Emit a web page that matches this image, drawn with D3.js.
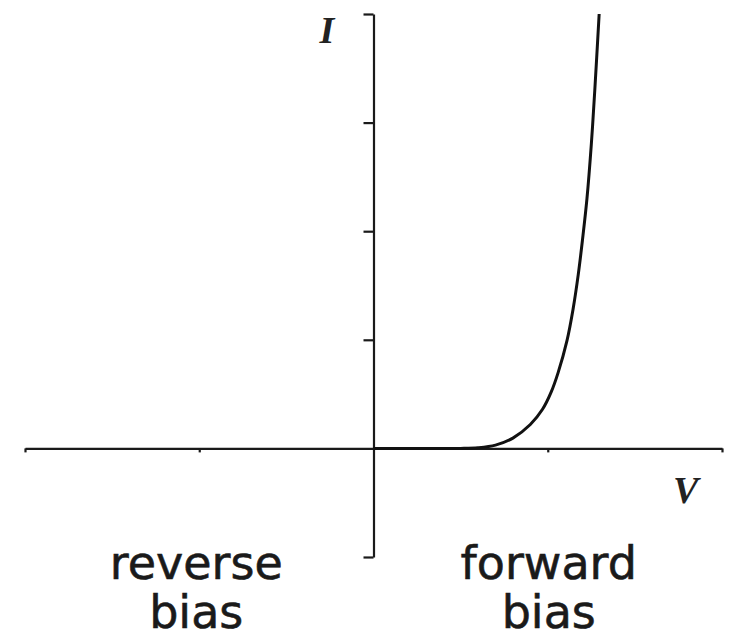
<!DOCTYPE html>
<html>
<head>
<meta charset="utf-8">
<script src="https://cdn.jsdelivr.net/npm/d3@7"></script>
<style>
  body { margin: 0; background: #fff; }
</style>
</head>
<body>
<div id="chart"></div>
<script>
// values (V and I in tick units)
const voltage = [0, 0.3, 0.5, 0.6, 0.7, 0.8, 0.9, 0.97, 1.02, 1.06, 1.11, 1.145, 1.175, 1.2, 1.225, 1.25, 1.27, 1.295];
const current = [0, 0, 0, 0.006, 0.03, 0.095, 0.22, 0.36, 0.52, 0.70, 0.99, 1.28, 1.6, 1.93, 2.3, 2.8, 3.3, 4.0];
const xTicks = [-2, -1, 1, 2];
const yTicks = [-1, 1, 2, 3, 4];
const regionLabels = [["reverse", "bias"], ["forward", "bias"]];
const regionCenters = [-1, 1];

const width = 738, height = 639;

const svg = d3.select("#chart")
  .append("svg")
    .attr("width", width)
    .attr("height", height);

const x = d3.scaleLinear()
    .domain([-2, 2])
    .range([25, 722]);

const y = d3.scaleLinear()
    .domain([-1, 4])
    .range([557, 14]);

// horizontal axis through I = 0
svg.append("g")
    .attr("transform", `translate(0, ${y(0)})`)
    .call(d3.axisBottom(x).tickValues(xTicks).tickSizeInner(4).tickSizeOuter(0).tickFormat(""));

// vertical axis through V = 0
svg.append("g")
    .attr("transform", `translate(${x(0)}, 0)`)
    .call(d3.axisLeft(y).tickValues(yTicks).tickSizeInner(10).tickSizeOuter(0).tickFormat(""));

svg.selectAll(".domain, .tick line")
    .attr("stroke", "#1a1a1a")
    .attr("stroke-width", 2.2);

const data = voltage.map((v, i) => ({v: v, i: current[i]}));

svg.append("path")
    .datum(data)
    .attr("d", d3.line()
        .x(d => x(d.v))
        .y(d => y(d.i))
        .curve(d3.curveCatmullRom.alpha(0.5)))
    .attr("fill", "none")
    .attr("stroke", "#111")
    .attr("stroke-width", 3);

// axis letters
svg.append("text")
    .attr("x", x(0) - 54)
    .attr("y", 43)
    .attr("font-family", "Liberation Serif, serif")
    .attr("font-style", "italic")
    .attr("font-weight", "bold")
    .attr("font-size", 38)
    .attr("fill", "#222")
    .text("I");

svg.append("text")
    .attr("x", 673)
    .attr("y", 503)
    .attr("font-family", "Liberation Serif, serif")
    .attr("font-style", "italic")
    .attr("font-weight", "bold")
    .attr("font-size", 38)
    .attr("fill", "#222")
    .text("V");

// region labels
regionLabels.forEach((lines, k) => {
  lines.forEach((t, j) => {
    svg.append("text")
        .attr("x", x(regionCenters[k]) - 3 + k * 4)
        .attr("y", 579 + j * 49)
        .attr("text-anchor", "middle")
        .attr("font-family", "DejaVu Sans, sans-serif")
        .attr("font-size", 46)
        .attr("fill", "#1a1a1a")
        .attr("stroke", "#1a1a1a")
        .attr("stroke-width", 0.6)
        .text(t);
  });
});
</script>
</body>
</html>
